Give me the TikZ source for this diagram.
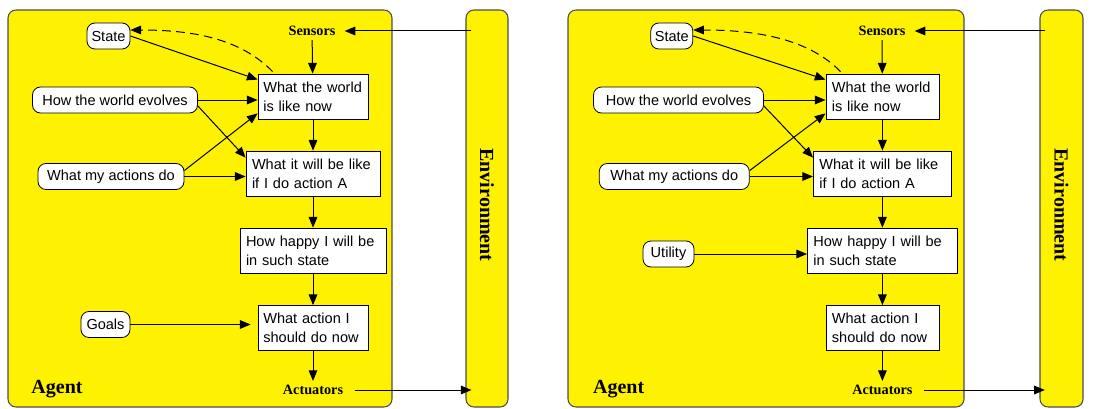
\documentclass[tikz,border=0pt]{standalone}
\usepackage{fontspec}
\setmainfont{Liberation Serif}
\setsansfont{Liberation Sans}
\usetikzlibrary{arrows.meta}
\tikzset{
  panel/.style={draw=black!70, fill=yellow, line width=0.8pt, rounded corners=6pt},
  envbox/.style={panel, minimum height=297.75pt, inner sep=0pt},
  infobox/.style={draw, fill=white, line width=0.6pt, align=left, inner xsep=4.5pt, minimum height=33.75pt, font=\sffamily\fontsize{10.9}{14.5}\selectfont},
  knowbox/.style={draw, fill=white, line width=0.6pt, rounded corners=6pt, minimum height=19.5pt, inner xsep=2pt, font=\sffamily\fontsize{10.9}{13}\selectfont},
  tag/.style={font=\bfseries\fontsize{10.7}{12}\selectfont, inner sep=3pt},
  bigtag/.style={font=\bfseries\fontsize{15}{16}\selectfont, inner sep=0pt},
  arr/.style={-{Triangle[length=8pt,width=6.5pt]}, line width=0.75pt},
}
\begin{document}
\begin{tikzpicture}[x=0.75pt, y=0.75pt]
\useasboundingbox (0,0) rectangle (1095,408);
% goal-based agent
\draw[panel] (8,1) rectangle (392,398);
\node[envbox, minimum width=31.5pt] (genv) at (487,199.5){};
\node[bigtag, rotate=-90] (genvtxt) at (487,203){Environment};
\node[bigtag] (gagent) at (57,19){Agent};
\node[tag] (gsens) at (312,377){Sensors};
\node[tag] (gact) at (313,18){Actuators};
\node[knowbox, minimum width=32.25pt] (gstate) at (108.5,372){State};
\node[infobox, text width=74.5pt, inner xsep=4pt] (gworld) at (313,311.5){What the world\\is like now};
\node[knowbox, minimum width=123.75pt] (gevo) at (115,308){How the world evolves};
\node[infobox, text width=91.5pt] (gwill) at (313,234.5){What it will be like\\if I do action A};
\node[knowbox, minimum width=109.5pt] (gdo) at (111,231.5){What my actions do};
\node[infobox, text width=100.5pt] (ghappy) at (313,157.5){How happy I will be\\in such state};
\node[infobox, text width=74.5pt, inner xsep=4pt] (gaction) at (313,80){What action I\\should do now};
\node[knowbox, minimum width=36.75pt] (ggoals) at (105.5,83.5){Goals};
\draw[arr, shorten <=-4.5pt](genv.west |- gsens.east) -- ([xshift=3.75pt]gsens.east);
\draw[arr](gsens) -- (gworld);
\draw[arr](gstate.east) -- ([yshift=-4.5pt]gworld.north west);
\draw[arr, dash pattern=on 6.5pt off 4pt]([xshift=11.25pt,yshift=1.5pt]gworld.north west) .. controls +(-33,34) and +(60,0) .. ([yshift=4.5pt]gstate.east);
\draw[arr](gevo.east) -- (gevo.east -| gworld.west);
\draw[arr]([yshift=-4.5pt]gevo.east) -- ([yshift=-5.25pt]gwill.north west);
\draw[arr]([yshift=4.5pt]gdo.east) -- ([yshift=4.5pt]gworld.south west);
\draw[arr](gdo.east) -- (gdo.east -| gwill.west);
\draw[arr](gworld) -- (gwill);
\draw[arr](gwill) -- (ghappy);
\draw[arr](ghappy) -- (gaction);
\draw[arr, shorten >=5.25pt](ggoals.east) -- (ggoals.east -| gaction.west);
\draw[arr](gaction) -- (gact);
\draw[arr, shorten <=5.5pt, shorten >=-4.5pt](gact.east) -- (gact.east -| genv.west);
% utility-based agent
\draw[panel] (568,1) rectangle (964,398);
\node[envbox, minimum width=32.25pt] (uenv) at (1061.5,199.5){};
\node[bigtag, rotate=-90] (uenvtxt) at (1061.5,203){Environment};
\node[bigtag] (uagent) at (618.7,19){Agent};
\node[tag] (usens) at (882,377){Sensors};
\node[tag] (uact) at (882.4,18){Actuators};
\node[knowbox, minimum width=31.5pt] (ustate) at (671.8,372){State};
\node[infobox, text width=75.75pt] (uworld) at (882.4,311.5){What the world\\is like now};
\node[knowbox, minimum width=127.5pt] (uevo) at (678.5,308){How the world evolves};
\node[infobox, text width=94.5pt] (uwill) at (882.4,234.5){What it will be like\\if I do action A};
\node[knowbox, minimum width=112.5pt] (udo) at (674.3,231.5){What my actions do};
\node[infobox, text width=103.5pt] (uhappy) at (882.4,157.5){How happy I will be\\in such state};
\node[infobox, text width=75.75pt] (uaction) at (882.4,80){What action I\\should do now};
\node[knowbox, minimum width=38.25pt] (uutil) at (668.5,154){Utility};
\draw[arr, shorten <=-4pt](uenv.west |- usens.east) -- ([xshift=3.75pt]usens.east);
\draw[arr](usens) -- (uworld);
\draw[arr](ustate.east) -- ([yshift=-4.5pt]uworld.north west);
\draw[arr, dash pattern=on 6.5pt off 4pt]([xshift=11.25pt,yshift=1.5pt]uworld.north west) .. controls +(-33,34) and +(60,0) .. ([yshift=4.5pt]ustate.east);
\draw[arr](uevo.east) -- (uevo.east -| uworld.west);
\draw[arr]([yshift=-4.5pt]uevo.east) -- ([yshift=-5.25pt]uwill.north west);
\draw[arr]([yshift=4.5pt]udo.east) -- ([yshift=4.5pt]uworld.south west);
\draw[arr](udo.east) -- (udo.east -| uwill.west);
\draw[arr](uworld) -- (uwill);
\draw[arr](uwill) -- (uhappy);
\draw[arr](uutil.east) -- (uutil.east -| uhappy.west);
\draw[arr](uhappy) -- (uaction);
\draw[arr](uaction) -- (uact);
\draw[arr, shorten <=5.5pt, shorten >=-4pt](uact.east) -- (uact.east -| uenv.west);
\end{tikzpicture}
\end{document}
